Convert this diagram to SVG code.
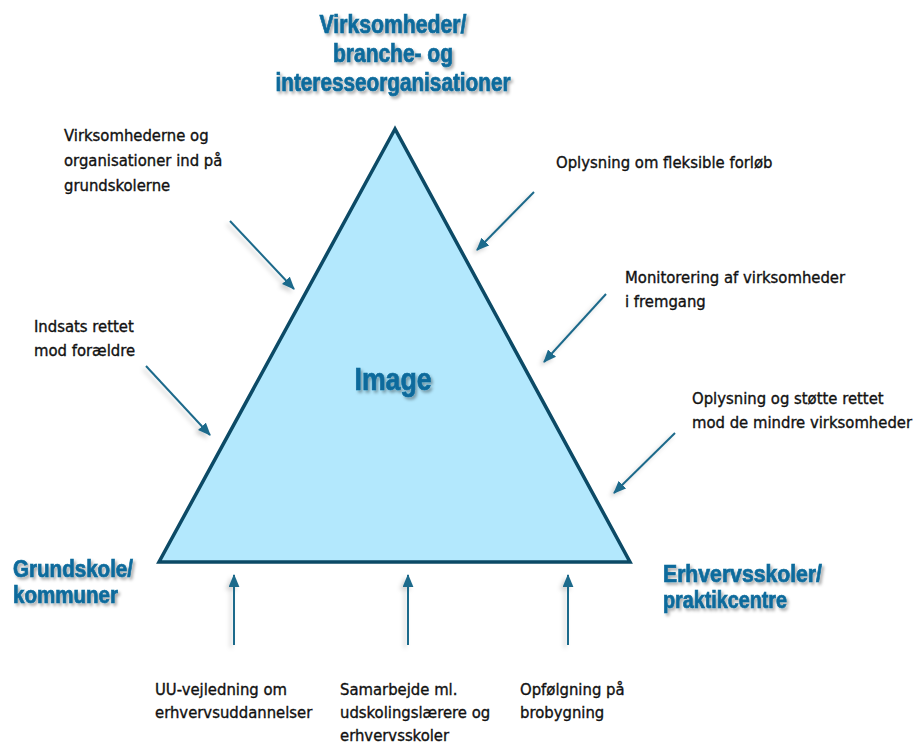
<svg xmlns="http://www.w3.org/2000/svg" width="915" height="744" viewBox="0 0 915 744">
<defs>
<style>
.title{font-family:"Liberation Sans",Arial,sans-serif;font-weight:bold;fill:#0a6b9c;stroke:#0a6b9c;stroke-width:0.7;filter:url(#tshadow)}
.lbl{font-family:"DejaVu Sans Condensed","DejaVu Sans",sans-serif;font-size:16.5px;fill:#111;stroke:#111;stroke-width:0.35}
.arr{stroke:#1f6a8b;stroke-width:2;fill:none;marker-end:url(#ah);filter:url(#ashadow)}
</style>
<marker id="ah" viewBox="0 0 12 10" refX="11" refY="5" markerWidth="13" markerHeight="11" markerUnits="userSpaceOnUse" orient="auto">
<path d="M0,0 L12,5 L0,10 Z" fill="#1f6a8b"/>
</marker>
<filter id="tshadow" x="-10%" y="-20%" width="130%" height="160%">
<feDropShadow dx="2" dy="2.5" stdDeviation="1.5" flood-color="#000" flood-opacity="0.35"/>
</filter>
<filter id="ashadow" filterUnits="userSpaceOnUse" x="0" y="0" width="915" height="744">
<feDropShadow dx="-3" dy="3" stdDeviation="2" flood-color="#000" flood-opacity="0.18"/>
</filter>
</defs>
<rect width="915" height="744" fill="#fff"/>

<g id="triangle">
<polygon points="395,129 159,562 630,562" fill="#b3e8fd" stroke="#0c4a66" stroke-width="3.5" stroke-linejoin="miter"/>
<text class="title" x="393" y="390" font-size="32" text-anchor="middle" textLength="77" lengthAdjust="spacingAndGlyphs">Image</text>
</g>

<g id="top-node">
<text class="title" x="393" y="33" font-size="25" text-anchor="middle" textLength="147" lengthAdjust="spacingAndGlyphs">Virksomheder/</text>
<text class="title" x="393" y="62" font-size="25" text-anchor="middle" textLength="120" lengthAdjust="spacingAndGlyphs">branche- og</text>
<text class="title" x="393" y="91" font-size="25" text-anchor="middle" textLength="235" lengthAdjust="spacingAndGlyphs">interesseorganisationer</text>
</g>

<g id="left-node">
<text class="title" x="13" y="577" font-size="23" textLength="120" lengthAdjust="spacingAndGlyphs">Grundskole/</text>
<text class="title" x="13" y="603" font-size="23" textLength="105" lengthAdjust="spacingAndGlyphs">kommuner</text>
</g>

<g id="right-node">
<text class="title" x="663" y="582" font-size="23" textLength="159" lengthAdjust="spacingAndGlyphs">Erhvervsskoler/</text>
<text class="title" x="663" y="608" font-size="23" textLength="124" lengthAdjust="spacingAndGlyphs">praktikcentre</text>
</g>

<g id="label-virksomhederne">
<text class="lbl" x="64" y="141">Virksomhederne og</text>
<text class="lbl" x="64" y="166">organisationer ind på</text>
<text class="lbl" x="64" y="191">grundskolerne</text>
</g>
<g id="label-indsats">
<text class="lbl" x="34" y="332">Indsats rettet</text>
<text class="lbl" x="34" y="356">mod forældre</text>
</g>
<g id="label-oplysning-fleksible">
<text class="lbl" x="556" y="168">Oplysning om fleksible forløb</text>
</g>
<g id="label-monitorering">
<text class="lbl" x="625" y="283">Monitorering af virksomheder</text>
<text class="lbl" x="625" y="307">i fremgang</text>
</g>
<g id="label-oplysning-stoette">
<text class="lbl" x="692" y="404">Oplysning og støtte rettet</text>
<text class="lbl" x="692" y="428">mod de mindre virksomheder</text>
</g>
<g id="label-uu">
<text class="lbl" x="155" y="695">UU-vejledning om</text>
<text class="lbl" x="155" y="718">erhvervsuddannelser</text>
</g>
<g id="label-samarbejde">
<text class="lbl" x="340" y="695">Samarbejde ml.</text>
<text class="lbl" x="340" y="718">udskolingslærere og</text>
<text class="lbl" x="340" y="741">erhvervsskoler</text>
</g>
<g id="label-opfoelgning">
<text class="lbl" x="520" y="695">Opfølgning på</text>
<text class="lbl" x="520" y="718">brobygning</text>
</g>

<g id="connectors">
<line class="arr" x1="230" y1="221" x2="294" y2="289"/>
<line class="arr" x1="146" y1="366" x2="210" y2="435"/>
<line class="arr" x1="534" y1="192" x2="477" y2="250"/>
<line class="arr" x1="606" y1="294" x2="544" y2="362"/>
<line class="arr" x1="675" y1="433" x2="614" y2="493"/>
<line class="arr" x1="234" y1="645" x2="234" y2="575"/>
<line class="arr" x1="408" y1="645" x2="408" y2="575"/>
<line class="arr" x1="568" y1="645" x2="568" y2="575"/>
</g>
</svg>
